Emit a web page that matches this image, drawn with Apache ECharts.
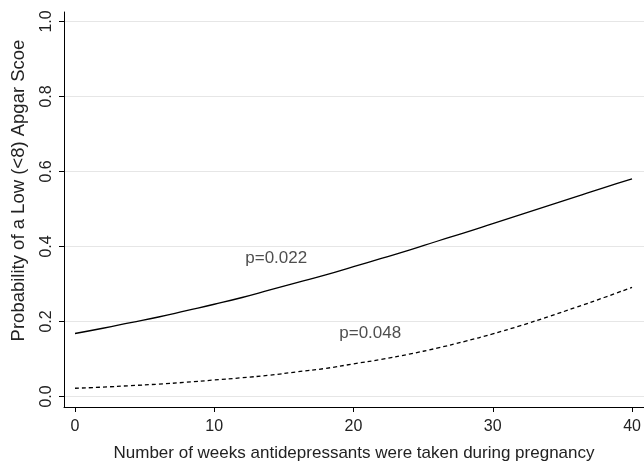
<!DOCTYPE html>
<html>
<head>
<meta charset="utf-8">
<script src="https://cdn.jsdelivr.net/npm/echarts@6/dist/echarts.min.js"></script>
<style>html,body{margin:0;padding:0;background:#fff}#c{width:644px;height:467px}</style>
</head>
<body>
<div id="c"></div>
<script>
const weeks = [0,2,4,6,8,10,12,14,16,18,20,22,24,26,28,30,32,34,36,38,40];
const solidProb = [0.168,0.182,0.197,0.212,0.229,0.246,0.264,0.284,0.304,0.324,0.346,0.368,0.390,0.414,0.437,0.461,0.485,0.509,0.533,0.557,0.580];
const dashedProb = [0.022,0.025,0.029,0.033,0.038,0.044,0.050,0.057,0.066,0.075,0.087,0.099,0.113,0.129,0.147,0.167,0.189,0.213,0.238,0.264,0.291];
const xTicks = [0,10,20,30,40];
const yTicks = [0,0.2,0.4,0.6,0.8,1.0];
const annX = [14.45, 21.2];
const annY = [0.369, 0.169];
const annText = ['p=0.022', 'p=0.048'];
const xTitle = 'Number of weeks antidepressants were taken during pregnancy';
const yTitle = 'Probability of a Low (<8) Apgar Scoe';

const font = 'Liberation Sans, Arial, Helvetica, sans-serif';
const textColor = '#222';
const chart = echarts.init(document.getElementById('c'));
chart.setOption({
  animation: false,
  backgroundColor: '#fff',
  grid: {left: 64, right: 0, top: 12, bottom: 60},
  graphic: [{
    type: 'text', x: 19, y: 190.5, rotation: Math.PI / 2,
    style: {text: yTitle, fontFamily: font, fontSize: 18.5, fill: textColor, align: 'center', verticalAlign: 'middle'}
  }],
  xAxis: {
    type: 'value', min: -0.79, max: 40.86,
    name: xTitle,
    nameLocation: 'middle', nameGap: 38,
    nameTextStyle: {fontFamily: font, fontSize: 17, color: textColor},
    axisLine: {show: true, onZero: false, lineStyle: {color: '#000', width: 1}},
    axisTick: {show: true, length: 5, customValues: xTicks, lineStyle: {color: '#000'}},
    axisLabel: {customValues: xTicks, margin: 12, fontFamily: font, fontSize: 16, color: textColor},
    splitLine: {show: false}
  },
  yAxis: {
    type: 'value', min: -0.028, max: 1.0253,
    axisLine: {show: true, onZero: false, lineStyle: {color: '#000', width: 1}},
    axisTick: {show: true, length: 5, customValues: yTicks, lineStyle: {color: '#000'}},
    axisLabel: {customValues: yTicks, rotate: 90, margin: 9, fontFamily: font, fontSize: 16, color: textColor,
      formatter: v => v.toFixed(1)},
    splitLine: {show: true, lineStyle: {color: '#e6e6e6', width: 1}}
  },
  series: [
    {type: 'line', data: weeks.map((w, i) => [w, solidProb[i]]), showSymbol: false, smooth: true,
      lineStyle: {color: '#000', width: 1.3, type: 'solid'}},
    {type: 'line', data: weeks.map((w, i) => [w, dashedProb[i]]), showSymbol: false, smooth: true,
      lineStyle: {color: '#000', width: 1.3, type: [4, 3]}},
    {type: 'scatter', symbolSize: 0, data: annX.map((x, i) => ({value: [x, annY[i]], name: annText[i]})),
      label: {show: true, position: 'inside', formatter: p => p.name, fontFamily: font, fontSize: 17, color: textColor}}
  ]
});
</script>
</body>
</html>
